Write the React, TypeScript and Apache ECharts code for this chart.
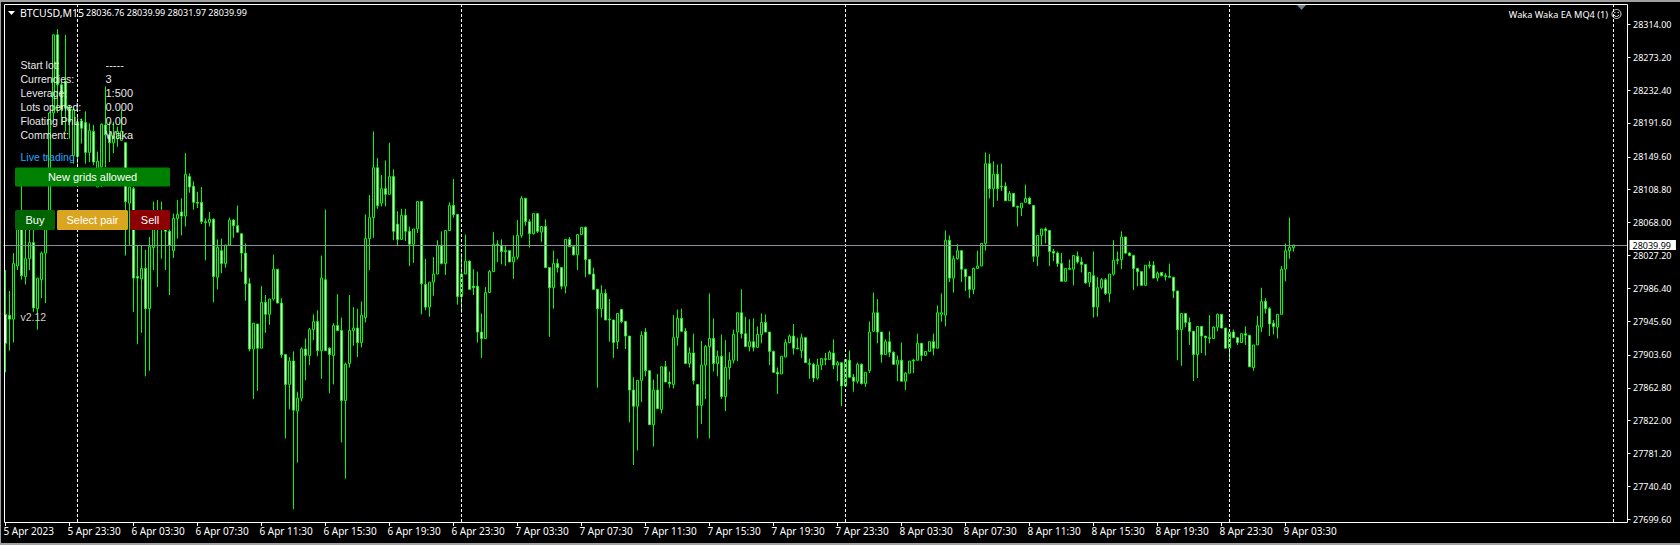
import React, { useEffect, useRef } from "react";
import * as echarts from "echarts";

const opens = [27954,27953,27948,28014,28065,28001,28023,28043,27961,27997,28030,28065,28204,28301,28239,28243,28210,28151,28193,28194,28192,28155,28181,28112,28137,28189,28177,28167,28172,28170,28167,28092,28110,28001,27998,28011,27961,28037,28061,28075,28059,28057,28033,28073,28081,28076,28125,28113,28093,28093,28069,28068,28072,28000,28033,28017,28040,28071,28064,28054,28030,27992,27911,27942,27912,27969,27954,27973,28010,27968,27904,27867,27896,27834,27850,27911,27903,27935,27945,27909,27997,27912,27903,27940,27934,27847,27893,27934,27937,27919,27950,28048,28074,28136,28092,28110,28103,28125,28066,28047,28077,28057,28041,28060,28094,27991,27963,27994,28004,28040,28017,28058,28089,28078,27976,28004,28020,27989,27989,27932,27924,27981,28007,28041,28040,28033,28033,28019,28025,28052,28098,28069,28054,28079,28056,28063,28012,27987,28017,28012,27989,28047,28038,28028,28053,28062,28022,28004,27985,27961,27980,27948,27947,27920,27960,27945,27927,27860,27840,27872,27932,27884,27817,27860,27836,27889,27870,27867,27925,27949,27933,27893,27906,27867,27841,27891,27914,27924,27893,27902,27852,27888,27897,27932,27956,27930,27914,27920,27913,27929,27944,27932,27908,27882,27880,27901,27919,27927,27912,27909,27925,27893,27892,27875,27891,27899,27898,27906,27891,27894,27865,27897,27876,27871,27892,27868,27884,27933,27956,27932,27904,27920,27907,27892,27897,27871,27881,27897,27897,27918,27903,27908,27920,27912,27954,27953,28046,27999,28023,28033,28010,28001,27985,28011,28014,28042,28141,28110,28128,28113,28113,28095,28104,28088,28086,28093,28098,28089,28026,28052,28060,28058,28032,28030,28017,27995,28011,28010,28026,28019,28016,27994,28002,27963,27987,27997,27980,28004,28022,28022,28050,28030,28027,28011,28007,27990,28015,28015,27999,28006,28002,28001,28000,27983,27935,27955,27944,27933,27904,27939,27927,27925,27924,27938,27954,27937,27912,27932,27925,27919,27930,27928,27888,27916,27938,27970,27961,27943,27938,27954,28010,28033,28036.76];
const closes = [27918,27948,28017,28063,28002,28023,28043,27962,27999,28030,28059,28204,28301,28239,28208,28210,28193,28208,28150,28185,28155,28182,28143,28144,28190,28177,28167,28175,28181,28181,28094,28112,27999,27999,28011,27961,28038,28059,28081,28061,28057,28040,28073,28078,28076,28128,28112,28093,28092,28069,28068,28072,28001,28037,28017,28040,28071,28064,28056,28030,27992,27911,27943,27912,27969,27954,27973,28010,27968,27904,27867,27896,27835,27850,27911,27903,27935,27945,27909,27999,27909,27904,27940,27934,27847,27892,27934,27937,27919,27953,28048,28074,28136,28089,28110,28103,28125,28057,28047,28077,28057,28041,28060,28094,27992,27963,27994,28004,28040,28017,28058,28089,28078,27976,28004,28020,27985,27987,27932,27924,27981,28007,28041,28040,28032,28032,28019,28025,28052,28098,28069,28054,28079,28057,28063,28012,27987,28017,28012,27989,28047,28038,28028,28053,28062,28022,28004,27985,27961,27980,27947,27947,27919,27955,27945,27927,27860,27840,27872,27928,27884,27817,27860,27837,27889,27870,27868,27925,27949,27933,27893,27906,27872,27841,27891,27914,27924,27893,27902,27852,27888,27897,27929,27956,27930,27914,27920,27913,27929,27944,27932,27908,27882,27880,27902,27919,27927,27912,27911,27925,27894,27892,27875,27891,27899,27898,27907,27891,27894,27865,27898,27876,27871,27892,27868,27882,27932,27956,27932,27904,27920,27907,27892,27897,27871,27881,27896,27896,27918,27903,27908,27920,27912,27956,27956,28046,27999,28023,28033,28010,28001,27985,28011,28014,28042,28141,28110,28128,28110,28112,28095,28104,28088,28087,28092,28098,28091,28026,28052,28060,28058,28032,28030,28017,27995,28011,28010,28027,28019,28016,27993,28006,27963,27987,27997,27980,28004,28021,28021,28050,28030,28027,28011,28007,27990,28015,28014,27999,28005,28002,28001,28000,27983,27935,27955,27944,27933,27904,27939,27927,27925,27924,27938,27954,27937,27912,27932,27925,27919,27930,27928,27889,27916,27940,27970,27961,27942,27939,27954,28010,28033,28037,28039.99];
const lows = [27882,27909,27919,28009,27997,27991,28009,27957,27935,27974,27968,28059,28193,28204,28189,28181,28172,28141,28141,28166,28141,28143,28139,28112,28112,28137,28143,28154,28162,28170,28027,28040,27957,27917,27931,27877,27884,28009,27988,28023,28009,27978,28024,28048,28052,28063,28105,28084,28086,28066,28021,28063,27969,27985,28005,28012,28040,28049,28056,28007,27971,27908,27849,27859,27912,27931,27941,27971,27968,27900,27800,27836,27712,27770,27846,27872,27891,27922,27902,27874,27909,27856,27867,27934,27795,27750,27888,27915,27901,27913,27944,28009,28049,28085,28088,28088,28103,28046,28040,28047,28045,28014,28018,28055,27954,27959,27951,27977,28004,28016,28003,28058,28074,27966,27956,28004,27985,27978,27919,27900,27924,27981,28007,28019,28016,28014,28019,27998,28022,28049,28064,28037,28053,28055,28044,28012,27926,27961,28006,27985,27980,28038,28027,28009,28053,28000,28004,27985,27863,27950,27947,27920,27900,27911,27943,27911,27820,27767,27785,27845,27877,27817,27790,27837,27831,27870,27863,27862,27915,27932,27893,27888,27867,27800,27818,27849,27800,27883,27877,27849,27834,27873,27893,27896,27924,27914,27908,27908,27913,27918,27932,27891,27882,27855,27880,27901,27918,27904,27911,27900,27894,27874,27870,27873,27885,27891,27898,27886,27871,27840,27865,27875,27858,27868,27867,27864,27881,27932,27918,27894,27904,27901,27892,27871,27871,27860,27881,27881,27897,27896,27903,27908,27903,27912,27945,27939,27994,27981,28022,27994,27983,27974,27979,28011,28014,28033,28098,28087,28095,28107,28095,28095,28088,28063,28076,28093,28091,28019,28014,28040,28042,28014,28020,28013,27995,27995,28010,27990,28017,28006,27992,27988,27950,27951,27985,27978,27969,28002,28016,28010,28029,28026,27984,27989,27990,27990,28011,27999,27995,28001,27996,28000,27974,27897,27890,27938,27916,27871,27875,27906,27903,27918,27924,27933,27937,27912,27897,27925,27916,27919,27916,27889,27884,27916,27932,27955,27927,27929,27924,27954,27995,28023,28031.97];
const highs = [28009,27983,28030,28083,28135,28063,28063,28063,27999,28032,28083,28204,28301,28308,28243,28301,28214,28212,28199,28197,28206,28191,28189,28156,28191,28237,28193,28193,28187,28208,28167,28125,28112,28040,28040,28034,28050,28094,28096,28094,28063,28060,28079,28096,28098,28154,28129,28119,28106,28112,28073,28081,28073,28047,28048,28040,28074,28072,28089,28054,28042,27999,27943,27942,27989,27978,27973,28028,28010,27974,27904,27901,27908,27858,27913,27924,27937,27954,27959,28027,28084,27913,27943,27979,27950,27894,27978,27963,27961,27970,28078,28102,28181,28148,28127,28145,28167,28134,28082,28085,28085,28063,28060,28094,28094,28023,27994,28025,28046,28057,28058,28093,28122,28078,28030,28053,28021,28010,28007,27955,27988,28009,28056,28046,28047,28040,28033,28052,28071,28101,28098,28072,28079,28079,28063,28072,28012,28033,28023,28012,28047,28050,28040,28053,28062,28063,28022,28012,27985,27990,27985,27973,27947,27955,27960,27945,27927,27876,27872,27933,27937,27884,27873,27880,27889,27896,27883,27953,27960,27961,27937,27913,27930,27867,27921,27916,27980,27949,27909,27929,27922,27907,27935,27956,27985,27951,27948,27949,27939,27955,27954,27932,27909,27888,27902,27923,27929,27942,27925,27930,27925,27899,27894,27899,27899,27906,27909,27923,27896,27894,27898,27909,27880,27894,27893,27882,27945,27981,27973,27932,27923,27933,27908,27903,27919,27882,27896,27899,27930,27918,27908,27920,27930,27965,27980,28058,28052,28027,28041,28033,28010,28001,28012,28033,28042,28155,28153,28144,28140,28141,28118,28107,28104,28089,28092,28115,28100,28089,28052,28060,28062,28058,28035,28032,28030,28011,28022,28027,28032,28025,28016,28006,28032,28000,27999,27999,28004,28046,28032,28057,28050,28031,28028,28011,28007,28015,28020,28020,28007,28006,28005,28017,28000,27983,27955,27955,27950,27933,27939,27939,27927,27953,27939,27955,27954,27937,27932,27935,27925,27930,27939,27928,27916,27952,27987,27974,27963,27947,27954,28014,28042,28074,28039.99];

const tickLabels = ["5 Apr 2023","5 Apr 23:30","6 Apr 03:30","6 Apr 07:30","6 Apr 11:30","6 Apr 15:30","6 Apr 19:30","6 Apr 23:30","7 Apr 03:30","7 Apr 07:30","7 Apr 11:30","7 Apr 15:30","7 Apr 19:30","7 Apr 23:30","8 Apr 03:30","8 Apr 07:30","8 Apr 11:30","8 Apr 15:30","8 Apr 19:30","8 Apr 23:30","9 Apr 03:30"];
const priceTicks = [28314,28273.2,28232.4,28191.6,28149.6,28108.8,28068,28027.2,27986.4,27945.6,27903.6,27862.8,27822,27781.2,27740.4,27699.6];
const periodSeparators = [18,114,210,306,402];
const lastPrice = 28039.99;
const headerText = "28036.76 28039.99 28031.97 28039.99";
const panelLabels = ["Start lot:","Currencies:","Leverage:","Lots opened:","Floating PnL:","Comment:"];
const panelValues = ["-----","3","1:500","0.000","0.00","Waka"];

const SLOTS = 406;
const BARS_PER_LABEL = 16;
const UI_FONT = "'Liberation Sans'";
const AXIS_FONT = "'Noto Sans'";

const categories = Array.from({ length: SLOTS }, (_, i) => (i % BARS_PER_LABEL === 0 && tickLabels[i / BARS_PER_LABEL]) || "");
const candles = opens.map((o, i) => [o, closes[i], lows[i], highs[i]]);
const showTick = (i: number) => i % BARS_PER_LABEL === 0 && i / BARS_PER_LABEL < tickLabels.length;

const txt = (x: number, y: number, text: string, fill = "#e8e8e8", extra: any = {}) => ({
  type: "text", x, y, silent: true, z: 100,
  style: { text, fill, font: `10.5px ${UI_FONT}`, textVerticalAlign: "middle", ...extra },
});
const btn = (x: number, y: number, w: number, h: number, fill: string, label: string) => [
  { type: "rect", silent: true, z: 99, shape: { x, y, width: w, height: h, r: 1.5 }, style: { fill } },
  txt(x + w / 2, y + h / 2, label, "#ffffff", { textAlign: "center", font: `11px ${UI_FONT}` }),
];

export default function App() {
  const ref = useRef<HTMLDivElement>(null);
  useEffect(() => {
    document.body.style.margin = "0";
    document.body.style.background = "#000";
    const chart = echarts.init(ref.current!, undefined, { renderer: "svg" });
    chart.setOption({
      animation: false,
      backgroundColor: "#000000",
      grid: { left: 3.5, top: 4, width: 1624, height: 518, containLabel: false },
      xAxis: {
        type: "category",
        data: categories,
        boundaryGap: true,
        axisLine: { show: false },
        axisTick: { show: true, alignWithLabel: true, interval: (i: number) => showTick(i), length: 4, lineStyle: { color: "#ffffff", width: 1 } },
        axisLabel: { show: true, interval: (i: number) => showTick(i), align: "left", margin: 4, color: "#ffffff", fontFamily: AXIS_FONT, fontSize: 10, padding: [0, 0, 0, -2] },
        splitLine: { show: false },
      },
      yAxis: {
        type: "value",
        position: "right",
        min: 27696.25,
        max: 28339.2,
        scale: true,
        axisLine: { show: false },
        axisTick: { show: true, customValues: priceTicks, length: 3, lineStyle: { color: "#ffffff", width: 1 } },
        axisLabel: { show: true, customValues: priceTicks, margin: 5.5, color: "#ffffff", fontFamily: AXIS_FONT, fontSize: 9, formatter: (v: number) => v.toFixed(2) },
        splitLine: { show: false },
      },
      series: [
        {
          type: "candlestick",
          data: candles,
          barWidth: 2,
          large: false,
          clip: false,
          itemStyle: { color: "#000000", color0: "#ffffff", borderColor: "#00ff00", borderColor0: "#00ff00", borderColorDoji: "#00ff00", borderWidth: 1 },
          markLine: {
            silent: true,
            symbol: "none",
            animation: false,
            data: [
              ...periodSeparators.map((i) => ({ xAxis: i, lineStyle: { color: "#ffffff", width: 1, type: [3, 2] }, label: { show: false } })),
              {
                yAxis: lastPrice,
                lineStyle: { color: "#8a9099", width: 1, type: "solid" },
                label: { show: true, position: "end", distance: 2, formatter: lastPrice.toFixed(2), color: "#000000", backgroundColor: "#ffffff", fontFamily: AXIS_FONT, fontSize: 9, padding: [0, 5, 0, 3], lineHeight: 10 },
              },
            ],
          },
        },
      ],
      graphic: [
        { type: "rect", silent: true, z: 50, shape: { x: 4.5, y: 4.5, width: 1623, height: 518 }, style: { fill: "none", stroke: "#ffffff", lineWidth: 1 } },
        { type: "rect", silent: true, z: 1, shape: { x: 0, y: 0, width: 1680, height: 2 }, style: { fill: "#a0a0a0" } },
        { type: "rect", silent: true, z: 1, shape: { x: 0, y: 0, width: 1, height: 545 }, style: { fill: "#a0a0a0" } },
        { type: "rect", silent: true, z: 1, shape: { x: 0, y: 543, width: 1680, height: 2 }, style: { fill: "#a0a0a0" } },
        { type: "polygon", silent: true, z: 100, shape: { points: [[8, 11], [15, 11], [11.5, 15]] }, style: { fill: "#ffffff" } },
        { type: "polygon", silent: true, z: 100, shape: { points: [[1297, 5], [1306, 5], [1301.5, 10]] }, style: { fill: "#708090" } },
        txt(20, 12.7, "BTCUSD,M15", "#ffffff", { font: `10.5px ${AXIS_FONT}` }),
        txt(86, 12.7, headerText, "#ffffff", { font: `9px ${AXIS_FONT}` }),
        txt(1608, 14, "Waka Waka EA MQ4 (1)", "#ffffff", { textAlign: "right", font: `9.2px ${AXIS_FONT}` }),
        { type: "circle", silent: true, z: 100, shape: { cx: 1616.5, cy: 14, r: 4.5 }, style: { fill: "none", stroke: "#e0e0e0", lineWidth: 1 } },
        { type: "circle", silent: true, z: 100, shape: { cx: 1614.8, cy: 12.5, r: 0.7 }, style: { fill: "#e0e0e0" } },
        { type: "circle", silent: true, z: 100, shape: { cx: 1618.2, cy: 12.5, r: 0.7 }, style: { fill: "#e0e0e0" } },
        { type: "arc", silent: true, z: 100, shape: { cx: 1616.5, cy: 14, r: 2.6, startAngle: 0.3, endAngle: Math.PI - 0.3 }, style: { fill: "none", stroke: "#e0e0e0", lineWidth: 1 } },
        ...panelLabels.map((t, i) => txt(20.5, 64.7 + 14 * i, t)),
        ...panelValues.map((t, i) => txt(105.5, 64.7 + 14 * i, t, "#e8e8e8", { font: `11px ${UI_FONT}` })),
        txt(20.5, 156.7, "Live trading", "#22aaff"),
        ...btn(15, 167.5, 155, 19, "#008000", "New grids allowed"),
        ...btn(15, 210, 40, 20, "#006400", "Buy"),
        ...btn(57, 210, 71, 20, "#daa520", "Select pair"),
        ...btn(130, 210, 40, 20, "#8b0000", "Sell"),
        txt(20.5, 316.7, "v2.12", "#cfcfcf"),
      ],
    });
    return () => chart.dispose();
  }, []);
  return <div ref={ref} style={{ position: "fixed", left: 0, top: 0, width: 1680, height: 545 }} />;
}
